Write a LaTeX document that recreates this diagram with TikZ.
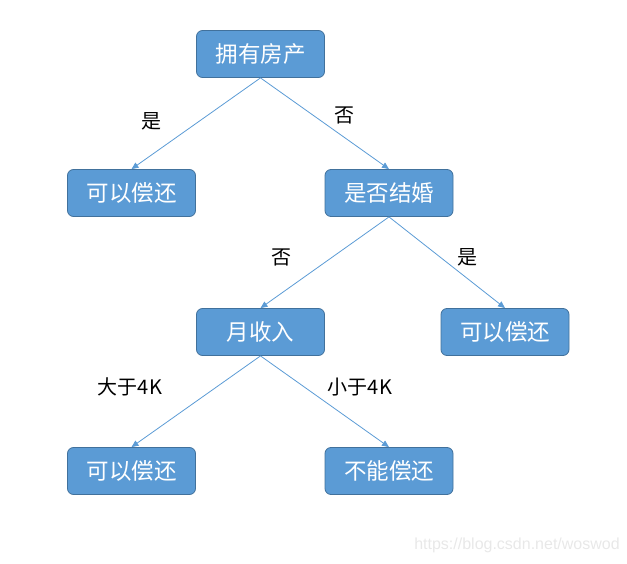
\documentclass[tikz,border=0pt]{standalone}
\usepackage{fontspec}
\setmainfont{Noto Sans CJK SC}
\newfontfamily\wmfont{Liberation Sans}
\usetikzlibrary{arrows.meta}
\definecolor{boxfill}{HTML}{5B9BD5}
\definecolor{boxline}{HTML}{41719C}
\definecolor{edgecol}{HTML}{5B9BD5}
\begin{document}
\begin{tikzpicture}[x=1pt,y=-1pt,
  decbox/.style={draw=boxline, line width=0.8pt, fill=boxfill, rounded corners=6pt,
    minimum width=128pt, minimum height=47pt, inner sep=0pt,
    text=white, font=\fontsize{22.5}{22.5}\selectfont},
  edge/.style={draw=edgecol, line width=0.8pt, -{Triangle[length=7pt,width=6pt]}},
  lbl/.style={text=black, font=\fontsize{20}{20}\selectfont, inner sep=0pt}]
\useasboundingbox (0,0) rectangle (627,564);
\node[decbox] (root) at (260.5,54) {拥有房产};
\node[decbox] (l1) at (131.5,193) {可以偿还};
\node[decbox] (marry) at (389,193) {是否结婚};
\node[decbox] (income) at (260.5,332) {月收入};
\node[decbox] (r2) at (505,332) {可以偿还};
\node[decbox] (l3) at (131.5,471) {可以偿还};
\node[decbox] (no) at (389,471) {不能偿还};
\draw[edge] (root.south) -- (l1.north);
\draw[edge] (root.south) -- (marry.north);
\draw[edge] (marry.south) -- (income.north);
\draw[edge] (marry.south) -- (r2.north);
\draw[edge] (income.south) -- (l3.north);
\draw[edge] (income.south) -- (no.north);
\node[lbl] (t1) at (151,121) {是};
\node[lbl] (t2) at (344,115) {否};
\node[lbl] (t3) at (281,257) {否};
\node[lbl] (t4) at (467,257) {是};
\node[lbl] (t5) at (130,387) {大于4K};
\node[lbl] (t6) at (360,387) {小于4K};
\node[text=black!9, font=\fontsize{16}{16}\selectfont\wmfont, inner sep=0pt] (wm) at (517,545) {https://blog.csdn.net/woswod};
\end{tikzpicture}
\end{document}
